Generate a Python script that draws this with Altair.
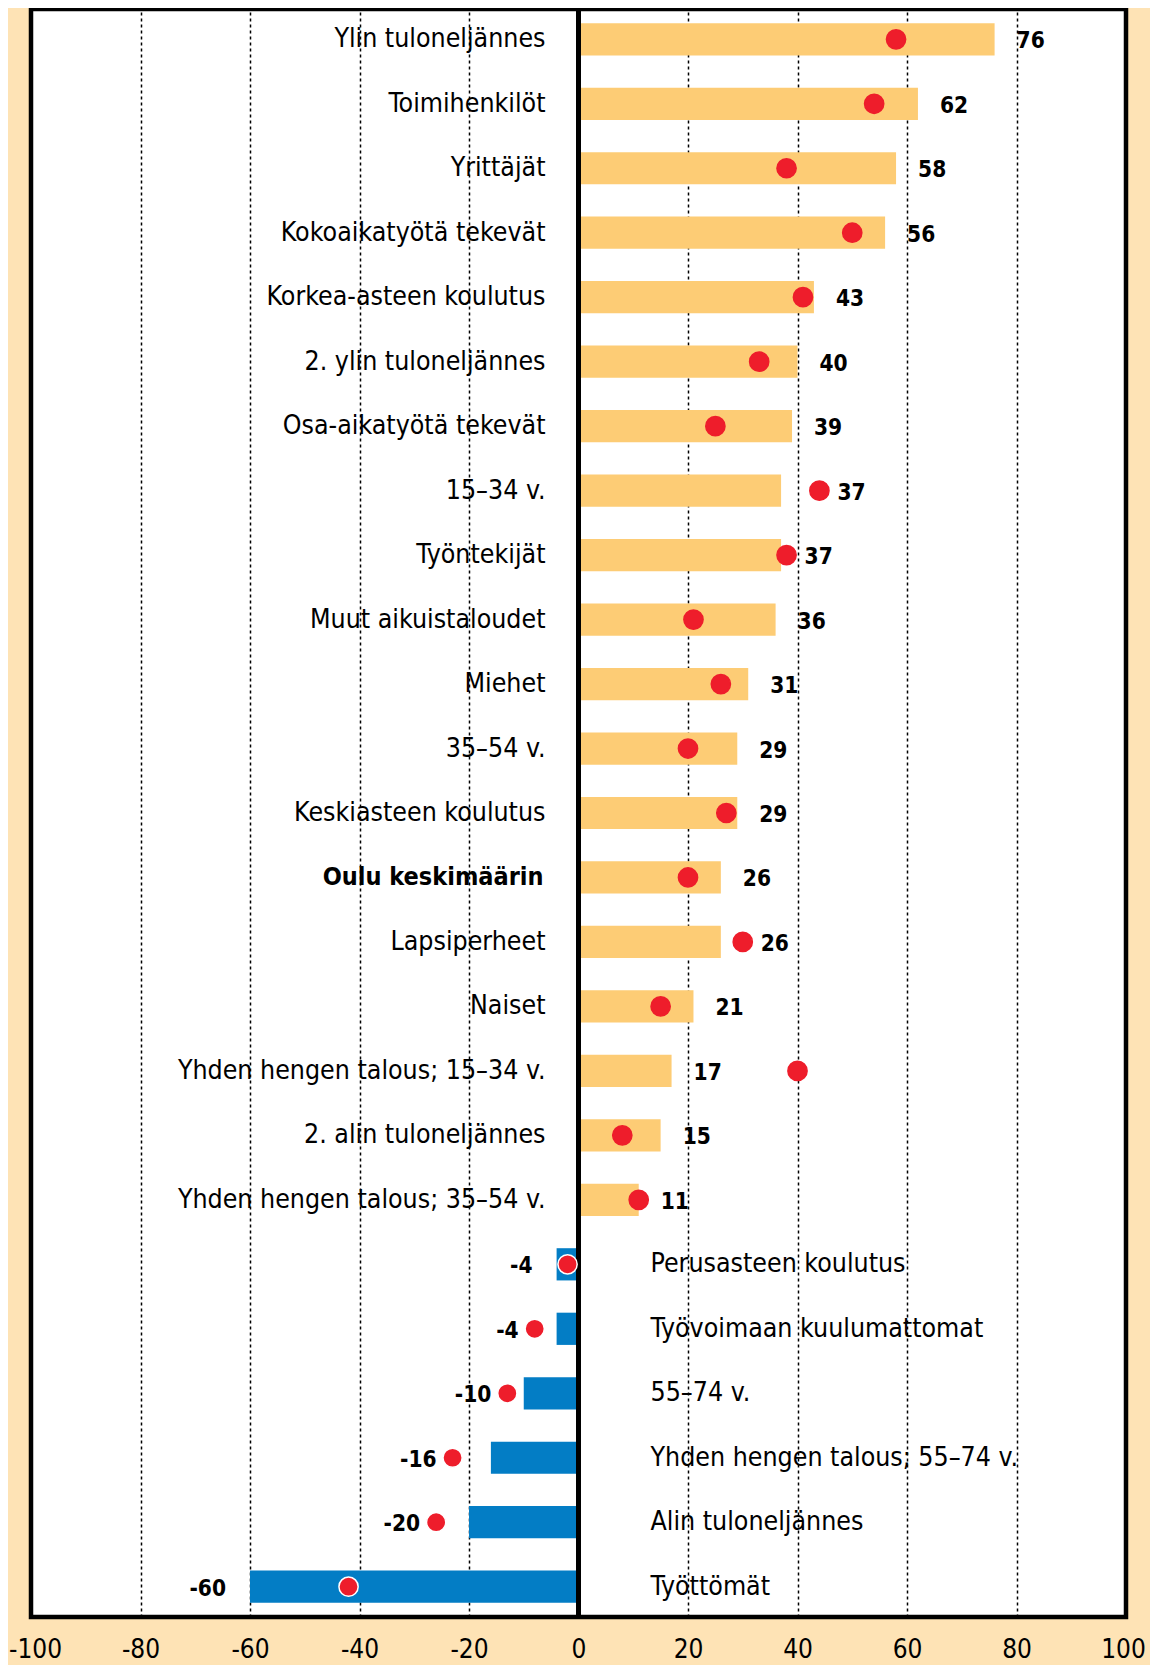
import altair as alt
import pandas as pd

categories = [
    "Ylin tuloneljännes", "Toimihenkilöt", "Yrittäjät", "Kokoaikatyötä tekevät",
    "Korkea-asteen koulutus", "2. ylin tuloneljännes", "Osa-aikatyötä tekevät",
    "15–34 v.", "Työntekijät", "Muut aikuistaloudet", "Miehet", "35–54 v.",
    "Keskiasteen koulutus", "Oulu keskimäärin", "Lapsiperheet", "Naiset",
    "Yhden hengen talous; 15–34 v.", "2. alin tuloneljännes",
    "Yhden hengen talous; 35–54 v.", "Perusasteen koulutus",
    "Työvoimaan kuulumattomat", "55–74 v.", "Yhden hengen talous; 55–74 v.",
    "Alin tuloneljännes", "Työttömät",
]
values = [76, 62, 58, 56, 43, 40, 39, 37, 37, 36, 31, 29, 29, 26, 26, 21, 17, 15, 11,
          -4, -4, -10, -16, -20, -60]
dots = [58, 54, 38, 50, 41, 33, 25, 44, 38, 21, 26, 20, 27, 20, 30, 15, 40, 8, 11,
        -2, -8, -13, -23, -26, -42]
highlight = "Oulu keskimäärin"
ticks = [-100, -80, -60, -40, -20, 0, 20, 40, 60, 80, 100]

ORANGE = "#FDCC75"
BLUE = "#037DC5"
RED = "#EE1D2B"
BG = "#FEE3B5"
FONT = "'DejaVu Sans Condensed', 'Liberation Sans', sans-serif"

df = pd.DataFrame({"cat": categories, "value": values, "dot": dots})
near = []
anchor = []
for v, d in zip(df["value"], df["dot"]):
    if v > 0:
        n = v < d <= v + 8
    else:
        n = v - 8 <= d < v
    anchor.append(d if n else v)
    near.append(bool(n))
df["near"] = near
df["anchor"] = anchor
df["bold"] = df["cat"] == highlight
df["vlab"] = [str(v) for v in values]

W, H = 1095, 1608

xscale = alt.Scale(domain=[-100, 100], nice=False, zero=False)
yenc = alt.Y("cat:N", sort=categories, axis=None,
             scale=alt.Scale(paddingInner=0.5, paddingOuter=0.22))

base = alt.Chart(df)

bars = base.mark_bar().encode(
    x=alt.X("value:Q", scale=xscale,
            axis=alt.Axis(values=ticks, title=None, ticks=False, domain=False,
                          labelFont=FONT, labelFontSize=26, labelColor="black",
                          labelPadding=19, labelFlush=False,
                          labelExpr="'' + datum.value",
                          labelOffset={"condition": [
                              {"test": "datum.value == -100", "value": 4},
                              {"test": "datum.value == 100", "value": -3}],
                              "value": 0},
                          grid=True, gridColor="black", gridDash=[3, 3], gridWidth=1.5,
                          gridOpacity=alt.condition(
                              "datum.value == 0 || abs(datum.value) == 100",
                              alt.value(0), alt.value(1)))),
    x2=alt.datum(0),
    y=yenc,
    color=alt.condition(alt.datum.value > 0, alt.value(ORANGE), alt.value(BLUE)),
)

zero = base.mark_rule(color="black", strokeWidth=5).encode(x=alt.datum(0))

pts = base.mark_point(shape="circle", filled=True, size=370, opacity=1).encode(
    x=alt.X("dot:Q", scale=xscale),
    y=yenc,
    fill=alt.value(RED),
    stroke=alt.condition(alt.datum.value < 0, alt.value("white"), alt.value(RED)),
    strokeWidth=alt.value(1.5),
)

lab_pos = base.transform_filter("datum.value > 0 && !datum.bold").mark_text(
    align="right", baseline="middle", dx=-33, font=FONT, fontSize=26.5, color="black"
).encode(x=alt.datum(0, scale=xscale), y=yenc, text="cat:N")

lab_bold = base.transform_filter("datum.bold").mark_text(
    align="right", baseline="middle", dx=-35, font=FONT, fontSize=25,
    fontWeight="bold", color="black"
).encode(x=alt.datum(0, scale=xscale), y=yenc, text="cat:N")

lab_neg = base.transform_filter("datum.value < 0").mark_text(
    align="left", baseline="middle", dx=72, font=FONT, fontSize=26.5, color="black"
).encode(x=alt.datum(0, scale=xscale), y=yenc, text="cat:N")

val_layers = []
for cond, al, dx in [
    ("datum.value > 0 && datum.near", "left", 18),
    ("datum.value > 0 && !datum.near", "left", 22),
    ("datum.value < 0 && datum.near", "right", -16),
    ("datum.value < 0 && !datum.near", "right", -24),
]:
    val_layers.append(
        base.transform_filter(cond).mark_text(
            align=al, baseline="middle", dx=dx, dy=2, font=FONT, fontSize=22.5,
            fontWeight="bold", color="black"
        ).encode(x=alt.X("anchor:Q", scale=xscale), y=yenc, text="vlab:N")
    )

chart = alt.layer(bars, zero, pts, lab_pos, lab_bold, lab_neg, *val_layers).properties(
    width=W, height=H, background=BG,
    autosize=alt.AutoSizeParams(type="none"),
    padding={"left": 23, "top": 1, "right": 24, "bottom": 48},
).configure_view(fill="white", stroke="black", strokeWidth=4.5)

chart.save("out.html", embed_options={"renderer": "svg", "actions": False})
